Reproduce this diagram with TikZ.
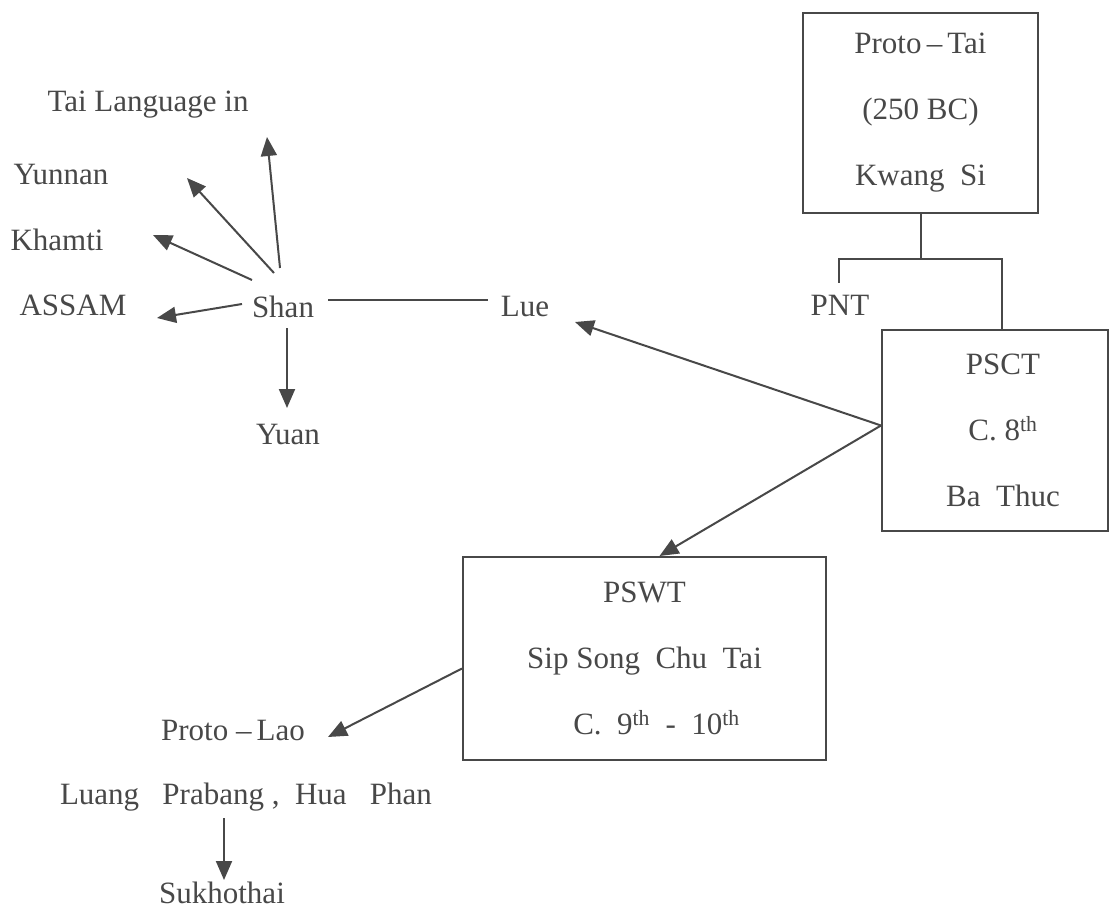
\documentclass[tikz,border=0pt]{standalone}
\usepackage{fontspec}
\setmainfont{Liberation Serif}
\usetikzlibrary{arrows.meta}
\definecolor{ink}{RGB}{72,72,72}
\begin{document}
\begin{tikzpicture}[x=1pt,y=-1pt,
  every node/.style={font=\fontsize{31}{66}\selectfont, text=ink, inner sep=0pt},
  tbox/.style={draw=ink, line width=2pt, align=center},
  link/.style={draw=ink, line width=2pt},
  arr/.style={link, -{Triangle[length=19pt,width=16pt]}}]
\useasboundingbox[fill=white] (0,0) rectangle (1111,909);

% boxes
\node[tbox, minimum width=235pt, minimum height=200pt] (pt) at (920.5,113)
  {Proto\,--\,Tai\\(250 BC)\\Kwang\ \ Si};
\node[tbox, minimum width=226pt, minimum height=201pt] (psct) at (995,430.5)
  {\hspace*{16pt}PSCT\\\hspace*{16pt}C. 8\textsuperscript{th}\\\hspace*{16pt}Ba\ \ Thuc};
\node[tbox, minimum width=363pt, minimum height=203pt] (pswt) at (644.5,658.5)
  {PSWT\\Sip Song\ \ Chu\ \ Tai\\\hspace*{24pt}C.\ \ 9\textsuperscript{th}\ \ -\ \ 10\textsuperscript{th}};

% plain labels
\node (tai)  at (148,105) {Tai Language in};
\node (yun)  at (61,175)  {Yunnan};
\node (kha)  at (57,240)  {Khamti};
\node (ass)  at (73,305)  {ASSAM};
\node (shan) at (283,307) {Shan};
\node (yuan) at (288,435) {Yuan};
\node (lue)  at (525,307) {Lue};
\node (pnt)  at (840,305) {PNT};
\node (plao) at (233,730) {Proto\ --\,Lao};
\node (lpb)  at (246,797) {Luang\ \ \ Prabang\ ,\ \ Hua\ \ \ Phan};
\node (suk)  at (222,893) {Sukhothai};

% tree under Proto-Tai
\draw[link] (pt.south) -- ++(0,45) coordinate (junc);
\draw[link] ([shift={(-1,-12)}]pnt.north) |- (junc) -| ([xshift=7pt]psct.north);

% Shan -- Lue
\draw[link] ([shift={(45,-7)}]shan.center) -- ([shift={(-37,-7)}]lue.center);

% arrows from Shan
\draw[arr] ([shift={(-3,-39)}]shan.center) -- ([shift={(119,32)}]tai.center);
\draw[arr] ([shift={(-9,-34)}]shan.center) -- ([shift={(126,3)}]yun.center);
\draw[arr] ([shift={(-31,-27)}]shan.center) -- ([shift={(96,-5)}]kha.center);
\draw[arr] ([shift={(-41,-3)}]shan.center) -- ([shift={(84,13)}]ass.center);
\draw[arr] ([shift={(4,21)}]shan.center) -- ([shift={(-1,-27)}]yuan.center);

% arrows from PSCT
\draw[arr] ([yshift=5pt]psct.west) -- ([shift={(50,15)}]lue.center);
\draw[arr] ([yshift=5pt]psct.west) -- ([xshift=15pt]pswt.north);

% arrows from PSWT
\draw[arr] ([yshift=-10pt]pswt.west) -- ([shift={(95,7)}]plao.center);
\draw[arr] ([shift={(-22,21)}]lpb.center) -- ([shift={(2,-13)}]suk.center);
\end{tikzpicture}
\end{document}
